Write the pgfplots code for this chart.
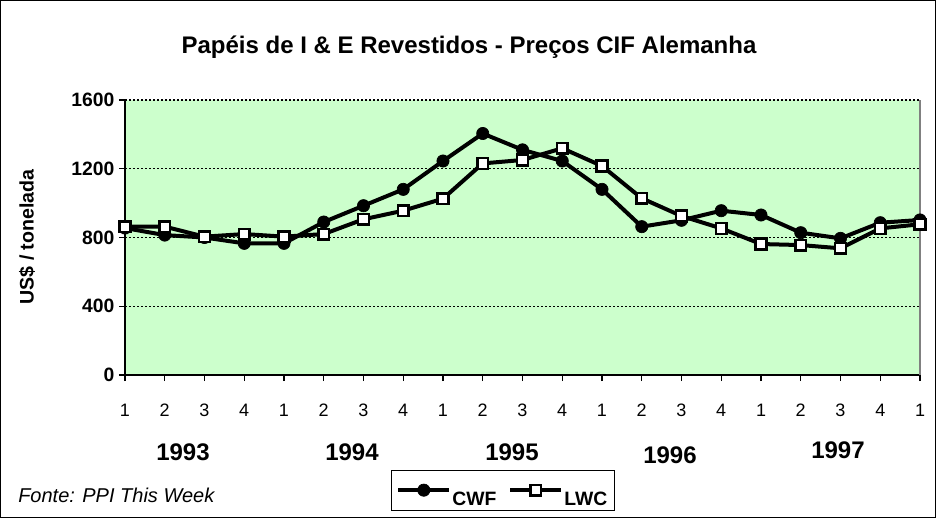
\documentclass[border=0pt]{standalone}
\usepackage{pgfplots}
\pgfplotsset{compat=1.18}
\usepackage{fontspec}
\setmainfont{Liberation Sans}
\definecolor{bggreen}{HTML}{CCFFCC}

\begin{document}
\begin{tikzpicture}[x=0.75pt,y=0.75pt]
  \useasboundingbox (0,0) rectangle (936,518);
  \draw[line width=0.9pt] (0.6,0.6) rectangle (935.4,517.4);
  \node[font=\bfseries\fontsize{18}{18}\selectfont] at (469,471) {Papéis de I \& E Revestidos - Preços CIF Alemanha};
  \node[font=\bfseries\fontsize{14.7}{14.7}\selectfont, rotate=90] at (27,281) {US\$ / tonelada};
  \node[font=\itshape\fontsize{15}{15}\selectfont, anchor=west, inner sep=0pt] at (18,23) {Fonte: PPI This Week};
  \foreach \yr/\xx/\yy in {1993/183/66, 1994/352/66, 1995/512/66, 1996/670/63, 1997/838/68}
    \node[font=\bfseries\fontsize{18}{18}\selectfont] at (\xx,\yy) {\yr};
  \begin{axis}[
    at={(93.75pt,107.25pt)}, anchor=south west,
    scale only axis,
    width=596.25pt, height=206.25pt,
    xmin=0, xmax=20, ymin=0, ymax=1600,
    axis lines*=left,
    axis line style={line width=1.2pt, black},
    axis background/.style={fill=bggreen},
    xtick={0,...,20},
    xticklabels={1,2,3,4,1,2,3,4,1,2,3,4,1,2,3,4,1,2,3,4,1},
    ytick={0,400,800,1200,1600},
    tick align=outside,
    major tick length=4.5pt,
    tick style={black, line width=0.8pt},
    ymajorgrids,
    grid style={black, line width=0.8pt, dash pattern=on 1.5pt off 1.5pt},
    /pgf/number format/assume math mode=true,
    /pgf/number format/1000 sep={},
    yticklabel style={font=\bfseries\fontsize{14.5}{14.5}\selectfont},
    xticklabel style={font=\fontsize{13.5}{13.5}\selectfont, yshift=-14pt},
    clip=false,
    legend columns=2,
    legend style={at={(0.475,-0.42)}, anchor=center, draw=black, line width=0.9pt,
      font=\bfseries\fontsize{14.5}{14.5}\selectfont, inner xsep=4pt, inner ysep=1pt,
      nodes={inner sep=1pt, anchor=base west},
      /tikz/every even column/.append style={column sep=8pt}},
    legend image code/.code={\draw[mark repeat=2,mark phase=2,#1] plot coordinates {(0pt,11.5pt) (19pt,11.5pt) (38pt,11.5pt)};
      \path (0pt,-1pt) (0pt,23.5pt);},
  ]
    \addplot[black, line width=3pt, mark=*, mark size=4.6pt, mark options={solid, fill=black, line width=0.5pt}]
      coordinates {
      (0,855) (1,814) (2,800) (3,766) (4,766) (5,890) (6,985) (7,1080) (8,1245) (9,1405) (10,1310)
      (11,1245) (12,1080) (13,863) (14,900) (15,956) (16,931) (17,828) (18,795) (19,886) (20,902)
    };
    \addlegendentry{CWF}
    \addplot[black, line width=3pt, mark=square*, mark size=4pt, mark options={solid, fill=white, line width=1.8pt}]
      coordinates {
      (0,863) (1,863) (2,805) (3,820) (4,805) (5,820) (6,906) (7,956) (8,1026) (9,1231) (10,1251)
      (11,1319) (12,1216) (13,1028) (14,925) (15,853) (16,762) (17,756) (18,737) (19,853) (20,877)
    };
    \addlegendentry{LWC}
    \draw[gray, line width=0.8pt] (rel axis cs:1,0) -- (rel axis cs:1,1);
  \end{axis}
\end{tikzpicture}
\end{document}
